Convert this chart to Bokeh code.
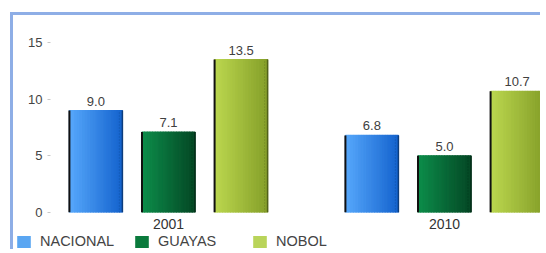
import numpy as np
from bokeh.plotting import figure
from bokeh.models import Range1d, FixedTicker, Legend, LegendItem
from bokeh.embed import file_html
from bokeh.resources import INLINE
from bokeh.core.properties import value

# ---- data ----
years = ["2001", "2010"]
series = ["NACIONAL", "GUAYAS", "NOBOL"]
nacional = [9.0, 6.8]
guayas = [7.1, 5.0]
nobol = [13.5, 10.7]
y_ticks = [0, 5, 10, 15]

values = [nacional, guayas, nobol]

# ---- style ----
light = ["#56a7fb", "#0c8c4a", "#bbd74f"]
dark = ["#1665cf", "#054a26", "#87a12a"]
legend_colors = ["#5aa6f2", "#0a7a3c", "#b9d45a"]
offsets = [-0.263, 0.0, 0.263]
bar_w = 0.192
N = 20
FONT = "Liberation Sans"
BORDER = "3px solid #8eaee6"


def hex2rgb(h):
    h = h.lstrip("#")
    return np.array([int(h[i:i + 2], 16) for i in (0, 2, 4)], dtype=float)


def rgb2hex(c):
    return "#%02x%02x%02x" % tuple(int(round(v)) for v in c)


W = 530
p = figure(width=W, height=221, output_backend="svg", toolbar_location=None,
           x_range=Range1d(-0.4275, 1.3587), y_range=Range1d(0, 16.33),
           min_border_left=37, min_border_right=0, min_border_top=12,
           min_border_bottom=24)
p.styles = {"border-left": BORDER, "border-top": BORDER,
            "margin-left": "10px", "margin-top": "12px"}
p.outline_line_color = None
p.xgrid.visible = False
p.ygrid.visible = False
p.background_fill_color = "white"
p.border_fill_color = "white"

# y axis
p.yaxis.ticker = FixedTicker(ticks=y_ticks)
p.yaxis.axis_line_color = None
p.yaxis.major_tick_out = 3
p.yaxis.major_tick_in = 0
p.yaxis.major_tick_line_color = "#c8c8c8"
p.yaxis.minor_tick_line_color = None
p.yaxis.major_label_standoff = 5
p.yaxis.major_label_text_font = FONT
p.yaxis.major_label_text_font_size = "13px"
p.yaxis.major_label_text_color = "#444444"

# x axis
p.xaxis.ticker = FixedTicker(ticks=list(range(len(years))))
p.xaxis.major_label_overrides = {i: y for i, y in enumerate(years)}
p.xaxis.axis_line_color = None
p.xaxis.major_tick_line_color = None
p.xaxis.minor_tick_line_color = None
p.xaxis.major_tick_out = 0
p.xaxis.major_tick_in = 0
p.xaxis.major_label_standoff = 6
p.xaxis.major_label_text_font = FONT
p.xaxis.major_label_text_font_size = "14px"
p.xaxis.major_label_text_color = "#333333"

# gradient bars built from strips
xs, tops, cols = [], [], []
lx, rx, etop, ecol, dx = [], [], [], [], []
cx, cy, ct = [], [], []
for si, (vals, off) in enumerate(zip(values, offsets)):
    c0, c1 = hex2rgb(light[si]), hex2rgb(dark[si])
    for gi, v in enumerate(vals):
        center = gi + off
        left = center - bar_w / 2
        for k in range(N):
            t = k / (N - 1)
            xs.append(left + (k + 0.5) * bar_w / N)
            tops.append(v)
            cols.append(rgb2hex(c0 * (1 - t) + c1 * t))
        lx.append(left)
        rx.append(left + bar_w)
        etop.append(v)
        ecol.append(rgb2hex(c1 * 0.6))
        dx.append(left + bar_w - 0.011)
        cx.append(center)
        cy.append(v)
        ct.append(f"{v:.1f}")

p.vbar(x=xs, top=tops, bottom=0, width=bar_w / N, fill_color=cols,
       line_color=cols, line_width=1.2)
p.segment(x0=dx, y0=[0] * len(dx), x1=dx, y1=[t - 0.15 for t in etop],
          line_color=ecol, line_width=1, line_dash="1 2", line_alpha=0.45)
p.segment(x0=lx, y0=[0] * len(lx), x1=lx, y1=etop, line_color="#111111",
          line_width=2)
p.segment(x0=rx, y0=[0] * len(rx), x1=rx, y1=etop, line_color=ecol,
          line_width=1.5)

p.text(x=cx, y=cy, text=ct, text_align="center", text_baseline="bottom",
       y_offset=-5, text_font=value(FONT), text_font_size="13px",
       text_color="#404040")

# legend strip: a separate root below the chart, so it can start at the far left
lf = figure(width=W, height=16, output_backend="svg", toolbar_location=None,
            x_axis_type=None, y_axis_type=None, min_border=0,
            x_range=Range1d(0, 1), y_range=Range1d(0, 1))
lf.styles = {"border-left": BORDER, "margin-left": "10px"}
lf.outline_line_color = None
lf.xgrid.visible = False
lf.ygrid.visible = False
items = []
for i, name in enumerate(series):
    # one off-range point, so the legend has a glyph to draw
    r = lf.vbar(x=[5], top=[5], bottom=[4], width=0.1,
                fill_color=legend_colors[i], line_color=None)
    items.append(LegendItem(label=name, renderers=[r]))
lg = Legend(items=items, location=(2, 0), orientation="horizontal",
            glyph_width=17, glyph_height=15, label_standoff=8,
            label_height=15, label_width=93, padding=0, margin=0, spacing=0,
            border_line_color=None, background_fill_alpha=0,
            label_text_font=FONT, label_text_font_size="14.5px",
            label_text_color="#444444", label_text_baseline="middle")
lf.add_layout(lg, "center")

open("out.html", "w").write(file_html([p, lf], INLINE))
